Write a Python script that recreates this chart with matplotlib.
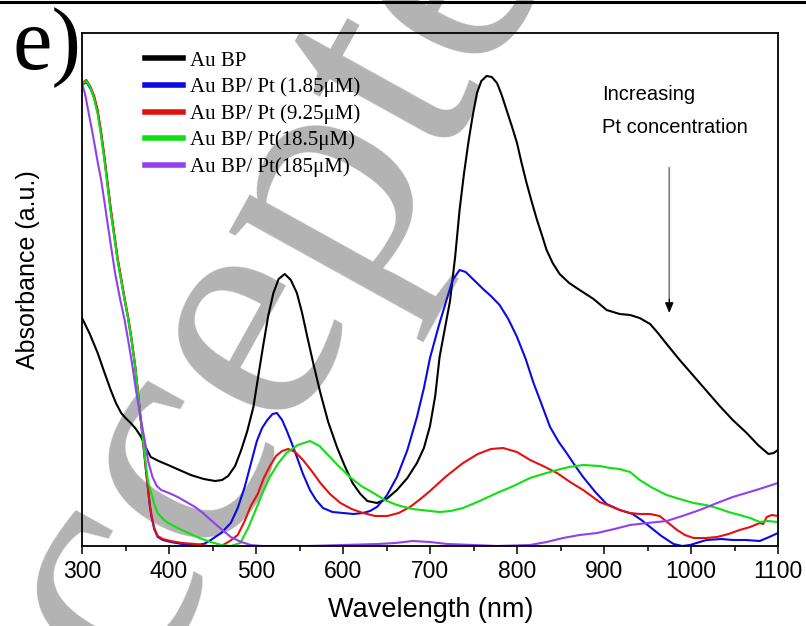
import matplotlib
matplotlib.use("Agg")
import matplotlib.pyplot as plt
from matplotlib.lines import Line2D

# ---- data (wavelength in nm, absorbance in a.u.) ----
wl_black = [300, 309, 318, 326, 333, 339, 345, 350, 356, 362, 368, 373, 379, 388, 399, 412,
            425, 440, 453, 461, 468, 476, 483, 490, 497, 503, 508, 514, 520, 526, 533, 540,
            547, 553, 559, 566, 574, 583, 593, 602, 611, 620, 628, 639, 650, 662, 674, 685,
            693, 700, 706, 711, 717, 723, 729, 734, 739, 744, 749, 754, 759, 765, 771, 777,
            782, 788, 794, 800, 805, 811, 817, 823, 829, 834, 841, 849, 860, 872, 888, 903,
            918, 930, 941, 953, 962, 972, 987, 1003, 1018, 1033, 1048, 1064, 1077, 1089,
            1095, 1100]
ab_black = [2.28, 2.12, 1.93, 1.73, 1.56, 1.43, 1.33, 1.28, 1.23, 1.17, 1.09, 0.99, 0.89, 0.85,
            0.81, 0.76, 0.71, 0.67, 0.65, 0.66, 0.70, 0.80, 0.96, 1.15, 1.39, 1.72, 1.99, 2.30,
            2.53, 2.67, 2.72, 2.66, 2.53, 2.33, 2.09, 1.82, 1.53, 1.24, 0.99, 0.80, 0.63, 0.52,
            0.45, 0.43, 0.47, 0.56, 0.68, 0.83, 0.98, 1.20, 1.50, 1.89, 2.17, 2.45, 2.90, 3.36,
            3.72, 4.03, 4.30, 4.53, 4.65, 4.70, 4.69, 4.63, 4.52, 4.36, 4.20, 4.03, 3.84, 3.63,
            3.44, 3.26, 3.10, 2.96, 2.83, 2.72, 2.63, 2.56, 2.47, 2.36, 2.32, 2.31, 2.28, 2.22,
            2.13, 2.02, 1.86, 1.70, 1.55, 1.40, 1.26, 1.13, 1.01, 0.92, 0.93, 0.96]

wl_blue = [300, 305, 310, 314, 318, 322, 326, 333, 341, 349, 353, 357, 361, 364, 367, 370, 373,
           376, 378, 380, 383, 387, 393, 402, 415, 430, 440, 448, 460, 471, 479, 487, 494, 501,
           507, 513, 519, 524, 530, 535, 541, 547, 554, 562, 569, 577, 588, 600, 612, 623, 631,
           639, 650, 662, 674, 685, 693, 700, 710, 719, 726, 734, 741, 748, 754, 761, 770, 780,
           790, 800, 810, 819, 829, 838, 848, 857, 867, 876, 890, 903, 918, 933, 943, 953, 966,
           980, 990, 999, 1010, 1018, 1035, 1048, 1063, 1079, 1090, 1100]
ab_blue = [4.61, 4.64, 4.57, 4.48, 4.34, 4.12, 3.86, 3.36, 2.86, 2.46, 2.28, 2.06, 1.80, 1.56,
           1.30, 1.06, 0.80, 0.56, 0.40, 0.29, 0.17, 0.09, 0.06, 0.04, 0.02, 0.01, 0.02, 0.06,
           0.13, 0.23, 0.38, 0.59, 0.82, 1.05, 1.18, 1.26, 1.32, 1.33, 1.26, 1.16, 1.03, 0.89,
           0.72, 0.56, 0.46, 0.38, 0.34, 0.33, 0.32, 0.33, 0.35, 0.39, 0.50, 0.69, 0.96, 1.29,
           1.58, 1.88, 2.20, 2.46, 2.66, 2.76, 2.74, 2.68, 2.63, 2.57, 2.50, 2.41, 2.27, 2.09,
           1.87, 1.63, 1.40, 1.19, 1.04, 0.93, 0.80, 0.69, 0.54, 0.42, 0.36, 0.32, 0.26, 0.19,
           0.10, 0.02, 0.00, 0.01, 0.04, 0.06, 0.07, 0.06, 0.06, 0.05, 0.09, 0.13]

wl_red = [300, 305, 310, 314, 318, 322, 326, 333, 341, 349, 353, 357, 361, 364, 367, 370, 373,
          376, 378, 380, 383, 387, 393, 402, 415, 430, 445, 460, 470, 479, 487, 494, 502, 509,
          516, 523, 530, 537, 545, 554, 564, 574, 585, 597, 610, 623, 637, 651, 664, 677, 689,
          700, 719, 738, 755, 770, 784, 800, 815, 830, 846, 861, 876, 895, 907, 918, 930, 941,
          953, 964, 974, 984, 993, 1003, 1017, 1030, 1043, 1056, 1068, 1079, 1083, 1087, 1093,
          1100]
ab_red = [4.63, 4.66, 4.59, 4.50, 4.36, 4.14, 3.88, 3.38, 2.88, 2.48, 2.29, 2.07, 1.81, 1.57,
          1.31, 1.07, 0.81, 0.57, 0.41, 0.30, 0.18, 0.10, 0.07, 0.05, 0.03, 0.02, 0.00, 0.00,
          0.05, 0.11, 0.25, 0.40, 0.52, 0.68, 0.80, 0.90, 0.95, 0.97, 0.94, 0.86, 0.75, 0.63,
          0.52, 0.43, 0.37, 0.33, 0.30, 0.30, 0.33, 0.39, 0.47, 0.55, 0.70, 0.83, 0.92, 0.97,
          0.98, 0.94, 0.86, 0.80, 0.73, 0.64, 0.56, 0.44, 0.40, 0.36, 0.33, 0.32, 0.32, 0.30,
          0.23, 0.16, 0.11, 0.08, 0.08, 0.09, 0.12, 0.16, 0.19, 0.23, 0.22, 0.29, 0.31, 0.30]

wl_green = [300, 305, 310, 314, 318, 322, 326, 333, 341, 349, 353, 357, 361, 364, 367, 370,
            373, 376, 380, 383, 387, 393, 399, 410, 422, 435, 448, 460, 471, 482, 491, 501,
            508, 516, 525, 535, 548, 562, 573, 585, 596, 608, 621, 635, 648, 662, 680, 700,
            711, 724, 738, 757, 777, 796, 815, 830, 846, 860, 876, 895, 907, 918, 930, 941,
            956, 972, 987, 1003, 1017, 1030, 1043, 1056, 1068, 1079, 1088, 1100]
ab_green = [4.62, 4.65, 4.58, 4.47, 4.32, 4.10, 3.84, 3.34, 2.85, 2.46, 2.27, 2.05, 1.80, 1.56,
            1.31, 1.08, 0.84, 0.64, 0.52, 0.42, 0.33, 0.27, 0.23, 0.18, 0.13, 0.08, 0.04, 0.01,
            0.00, 0.03, 0.18, 0.39, 0.54, 0.69, 0.82, 0.93, 1.01, 1.05, 1.00, 0.89, 0.79, 0.69,
            0.60, 0.53, 0.46, 0.41, 0.37, 0.35, 0.34, 0.35, 0.38, 0.45, 0.53, 0.60, 0.68, 0.72,
            0.76, 0.79, 0.81, 0.80, 0.78, 0.77, 0.74, 0.66, 0.58, 0.51, 0.47, 0.43, 0.41, 0.38,
            0.34, 0.31, 0.28, 0.24, 0.25, 0.24]

wl_purple = [300, 304, 307, 311, 315, 318, 322, 326, 330, 334, 338, 344, 349, 353, 358, 362,
             367, 372, 376, 381, 386, 391, 400, 410, 420, 430, 439, 448, 460, 471, 483, 494,
             507, 520, 560, 600, 640, 660, 680, 700, 720, 750, 777, 815, 834, 853, 872, 892,
             912, 930, 950, 972, 990, 1010, 1030, 1048, 1075, 1100]
ab_purple = [4.63, 4.50, 4.36, 4.18, 3.99, 3.84, 3.66, 3.43, 3.19, 2.96, 2.73, 2.46, 2.26, 2.06,
             1.80, 1.56, 1.30, 1.06, 0.85, 0.69, 0.60, 0.56, 0.53, 0.49, 0.44, 0.39, 0.33, 0.26,
             0.17, 0.09, 0.04, 0.01, 0.00, 0.00, 0.00, 0.01, 0.02, 0.03, 0.05, 0.04, 0.02, 0.01,
             0.00, 0.01, 0.04, 0.08, 0.11, 0.13, 0.17, 0.21, 0.23, 0.25, 0.30, 0.36, 0.43, 0.49,
             0.56, 0.63]

labels = ["Au BP", "Au BP/ Pt (1.85\u03bcM)", "Au BP/ Pt (9.25\u03bcM)",
          "Au BP/ Pt(18.5\u03bcM)", "Au BP/ Pt(185\u03bcM)"]
colors = ["#000000", "#0a0ae6", "#e61010", "#10e010", "#9040f0"]
xticks = [300, 400, 500, 600, 700, 800, 900, 1000, 1100]

series = [(wl_black, ab_black), (wl_blue, ab_blue), (wl_red, ab_red),
          (wl_green, ab_green), (wl_purple, ab_purple)]

W, H = 806, 626
fig = plt.figure(figsize=(W / 100, H / 100), dpi=100)
fig.patch.set_facecolor("white")

# watermark (behind everything)
fig.text(262 / W, 1 - 318 / H, "Accepted", fontsize=240, family="Liberation Serif",
         color="#b3b3b3", rotation=61, rotation_mode="anchor", ha="center", va="center",
         zorder=-5)

# top border line of the original crop
fig.add_artist(Line2D([0, 1], [1 - 1.5 / H, 1 - 1.5 / H], transform=fig.transFigure,
                      color="black", lw=2.2))

ax = fig.add_axes([82 / W, (H - 546) / H, 696 / W, 513 / H])
ax.set_facecolor("none")

handles = []
for (x, y), c, lab in zip(series, colors, labels):
    h, = ax.plot(x, y, color=c, lw=1.5, label=lab)
    handles.append(h)

ax.set_xlim(300, 1100)
ax.set_ylim(0, 5.13)
ax.set_xticks(xticks)
ax.set_xticks([350, 450, 550, 650, 750, 850, 950, 1050], minor=True)
ax.set_yticks([])
ax.tick_params(axis="x", which="major", direction="out", length=6, width=1.1,
               labelsize=16.5, pad=4)
ax.tick_params(axis="x", which="minor", direction="out", length=3.5, width=1.1)
for lab in ax.get_xticklabels():
    lab.set_family("Liberation Sans")
for s in ax.spines.values():
    s.set_linewidth(1.3)

ax.set_xlabel("Wavelength (nm)", family="Liberation Sans", fontsize=19.5, va="center")
ax.xaxis.set_label_coords((431 - 82) / 696, (546 - 610) / 513)
ax.set_ylabel("Absorbance (a.u.)", family="Liberation Sans", fontsize=18, va="center")
ax.yaxis.set_label_coords((28 - 82) / 696, (546 - 270) / 513)

leg = ax.legend(handles=handles, loc="upper left",
                bbox_to_anchor=(145 / W, 1 - 51 / H), bbox_transform=fig.transFigure,
                frameon=False, prop={"family": "Liberation Serif", "size": 15},
                handlelength=1.8, handletextpad=0.35, labelspacing=0.33,
                borderpad=0, borderaxespad=0)
for l in leg.get_lines():
    l.set_linewidth(4)

ax.text(898, 4.51, "Increasing", family="Liberation Sans", fontsize=14.5,
        ha="left", va="center")
ax.text(898, 4.18, "Pt concentration", family="Liberation Sans", fontsize=14.5,
        ha="left", va="center")
ax.annotate("", xy=(975, 2.45), xytext=(975, 3.81),
            arrowprops=dict(arrowstyle="-", color="#808080", lw=1.2))
ax.annotate("", xy=(975, 2.33), xytext=(975, 2.47),
            arrowprops=dict(arrowstyle="-|>,head_length=0.6,head_width=0.25",
                            color="black", lw=1.0, shrinkA=0, shrinkB=0))

fig.text(12 / W, 1 - 48 / H, "e)", family="Liberation Serif", fontsize=64,
         ha="left", va="center")

fig.savefig("out.png", dpi=100)
